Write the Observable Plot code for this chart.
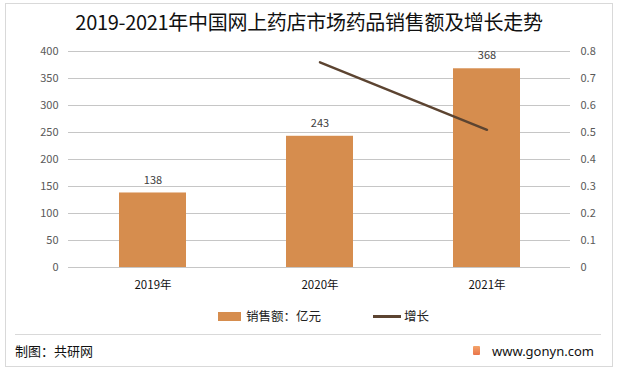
<!DOCTYPE html>
<html>
<head>
<meta charset="utf-8">
<script src="https://cdn.jsdelivr.net/npm/d3@7"></script>
<script src="https://cdn.jsdelivr.net/npm/@observablehq/plot@0.6"></script>
<style>
  html, body { margin: 0; padding: 0; background: #fff; }
  #wrap { position: relative; width: 618px; height: 371px; overflow: hidden; font-family: "Noto Sans CJK SC", "Noto Sans", sans-serif; background:#fff; }
  #frame { position: absolute; left: 5px; top: 3px; width: 606px; height: 362px; border: 1px solid #d9d9d9; box-sizing: content-box; }
  #title { position: absolute; left: 0; width: 618px; top: 8px; text-align: center; font-size: 20px; color: #111; line-height: 28px; letter-spacing: -0.3px; }
  #chart { position: absolute; left: 0; top: 0; }
  .leg { position: absolute; top: 306px; font-size: 12.5px; color: #222; line-height: 20px; }
  #sep { position: absolute; left: 15px; top: 334px; width: 586px; height: 0; border-top: 1px solid #d9d9d9; }
  #credit { position: absolute; left: 15px; top: 341px; font-size: 13px; color: #111; line-height: 20px; }
  #site { position: absolute; left: 492px; top: 341px; font-size: 13px; color: #111; line-height: 20px; font-family: "Noto Sans", sans-serif; }
  #logo { position: absolute; left: 473px; top: 346px; width: 7px; height: 9px; background: linear-gradient(#f4a46a, #e9744a); border-radius: 1px; }
</style>
</head>
<body>
<div id="wrap">
  <div id="frame"></div>
  <div id="title">2019-2021年中国网上药店市场药品销售额及增长走势</div>
  <div id="chart"></div>
  <div class="leg" style="left:218px;"><span style="display:inline-block;width:23px;height:9px;background:#D68D4E;vertical-align:middle;margin-right:5px;position:relative;top:-1px;"></span>销售额：亿元</div>
  <div class="leg" style="left:373px;"><span style="display:inline-block;width:28px;height:3px;background:#5C4431;vertical-align:middle;margin-right:3px;position:relative;top:-1px;"></span>增长</div>
  <div id="sep"></div>
  <div id="credit">制图：共研网</div>
  <div id="logo"></div>
  <div id="site">www.gonyn.com</div>
</div>
<script>
const years = ["2019年", "2020年", "2021年"];
const sales = [138, 243, 368];
const growthYears = ["2020年", "2021年"];
const growth = [0.76, 0.51];
const leftTicks = [0, 50, 100, 150, 200, 250, 300, 350, 400];
const rightTicks = [0, 0.1, 0.2, 0.3, 0.4, 0.5, 0.6, 0.7, 0.8];

const ratio = 400 / 0.8; // right axis max mapped onto left axis max
const barData = years.map((y, i) => ({year: y, value: sales[i]}));
const lineData = growthYears.map((y, i) => ({year: y, g: growth[i]}));
const gridData = leftTicks.map(t => ({v: t}));

const font = "'Noto Sans CJK SC', 'Noto Sans', sans-serif";

const chart = Plot.plot({
  width: 618,
  height: 296,
  marginLeft: 68,
  marginRight: 48,
  marginTop: 51,
  marginBottom: 29,
  style: {fontFamily: font, fontSize: "11px", background: "transparent", overflow: "visible"},
  x: {domain: years, paddingInner: 0.6, paddingOuter: 0.3, label: null},
  y: {domain: [0, 400], label: null},
  marks: [
    Plot.ruleY(gridData, {y: "v", stroke: "#c6c6c6", strokeWidth: 1}),
    Plot.axisY(leftTicks, {anchor: "left", tickSize: 0, tickPadding: 10, fill: "#595959", label: null, fontSize: 11}),
    Plot.axisY(rightTicks.map(t => t * ratio), {anchor: "right", tickSize: 0, tickPadding: 10, fill: "#595959", label: null, fontSize: 11,
      tickFormat: d => String(+(d / ratio).toFixed(1))}),
    Plot.axisX({tickSize: 0, tickPadding: 13, fill: "#111", label: null, fontSize: 11.5}),
    Plot.barY(barData, {x: "year", y: "value", fill: "#D68D4E"}),
    Plot.text(barData, {x: "year", y: "value", text: d => String(d.value), dy: -13, fill: "#404040", fontSize: 11}),
    Plot.line(lineData, {x: "year", y: d => d.g * ratio, stroke: "#5C4431", strokeWidth: 2.5})
  ]
});
document.getElementById("chart").appendChild(chart);
</script>
</body>
</html>
